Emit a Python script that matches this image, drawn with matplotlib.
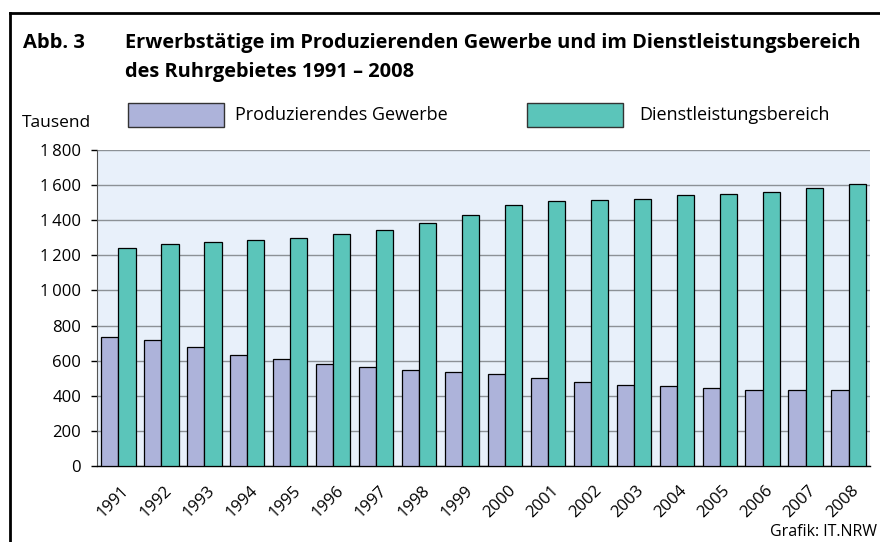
import matplotlib
matplotlib.use('Agg')
import matplotlib.pyplot as plt
import matplotlib.transforms as mtransforms
import numpy as np
from matplotlib.patches import Rectangle
from matplotlib.lines import Line2D

plt.rcParams['font.family'] = ['Open Sans', 'DejaVu Sans']

# ── Data (Tausend Erwerbstätige) ────────────────────────────────────────────
years = ['1991', '1992', '1993', '1994', '1995', '1996', '1997', '1998', '1999',
         '2000', '2001', '2002', '2003', '2004', '2005', '2006', '2007', '2008']
produzierend = [737, 720, 680, 635, 608, 582, 565, 549, 534,
                525, 502, 481, 462, 453, 443, 432, 432, 433]
dienstleistung = [1239, 1264, 1277, 1290, 1301, 1324, 1347, 1385, 1432,
                  1487, 1511, 1515, 1519, 1545, 1551, 1559, 1583, 1604]
yticks = [0, 200, 400, 600, 800, 1000, 1200, 1400, 1600, 1800]

C_PROD = '#adb3da'
C_DIENST = '#5bc5ba'
C_BG = '#e8f0fa'
C_GRID = '#8c9196'

W, H = 880, 542
fig = plt.figure(figsize=(W / 100, H / 100), dpi=100)
fig.patch.set_facecolor('white')

ax = fig.add_axes([97 / W, 1 - 466 / H, 773 / W, 316 / H])
ax.set_facecolor(C_BG)

x = np.arange(len(years))
bw = 0.4
ax.bar(x - bw / 2, produzierend, bw, color=C_PROD, edgecolor='black', linewidth=0.9, zorder=3)
ax.bar(x + bw / 2, dienstleistung, bw, color=C_DIENST, edgecolor='black', linewidth=0.9, zorder=3)

ax.set_xlim(-0.5, len(years) - 0.5)
ax.set_ylim(0, 1800)
ax.set_yticks(yticks)
ax.set_yticklabels([f'{v:,}'.replace(',', '\u2009') if v >= 1000 else str(v) for v in yticks],
                   fontsize=12)
ax.yaxis.grid(True, color=C_GRID, linewidth=1.0, zorder=1)
ax.tick_params(axis='y', length=4.5, width=1, color='black', pad=7)
ax.set_xticks(x)
ax.set_xticklabels(years, rotation=45, ha='right', va='center',
                   rotation_mode='anchor', fontsize=12)
ax.tick_params(axis='x', length=0, pad=16)
offset = mtransforms.ScaledTranslation(0.08, 0, fig.dpi_scale_trans)
for lab in ax.get_xticklabels():
    lab.set_transform(lab.get_transform() + offset)
for s in ['top', 'right']:
    ax.spines[s].set_visible(False)
ax.spines['left'].set_color('#555555')
ax.spines['left'].set_linewidth(0.8)
ax.spines['bottom'].set_color('black')
ax.spines['bottom'].set_linewidth(1.0)

# ── Frame ───────────────────────────────────────────────────────────────────
fig.add_artist(Line2D([10 / W, 10 / W], [0, 1 - 12.5 / H], color='black', lw=2, transform=fig.transFigure))
fig.add_artist(Line2D([10 / W, 1], [1 - 12.5 / H, 1 - 12.5 / H], color='black', lw=2, transform=fig.transFigure))

# ── Title ───────────────────────────────────────────────────────────────────
fig.text(23 / W, 1 - 43 / H, 'Abb. 3', fontsize=14.5, fontweight='bold', va='center', ha='left')
fig.text(125 / W, 1 - 43 / H, 'Erwerbstätige im Produzierenden Gewerbe und im Dienstleistungsbereich',
         fontsize=14.4, fontweight='bold', va='center', ha='left')
fig.text(125 / W, 1 - 72 / H, 'des Ruhrgebietes 1991 – 2008',
         fontsize=14.4, fontweight='bold', va='center', ha='left')

# ── Legend ──────────────────────────────────────────────────────────────────
for px, col, lbl, tx in [(128, C_PROD, 'Produzierendes Gewerbe', 235),
                         (527, C_DIENST, 'Dienstleistungsbereich', 639)]:
    fig.add_artist(Rectangle((px / W, 1 - 127 / H), 96 / W, 24 / H, facecolor=col,
                             edgecolor='#333333', lw=1, transform=fig.transFigure))
    fig.text(tx / W, 1 - 115 / H, lbl, fontsize=13, va='center', ha='left')

fig.text(22 / W, 1 - 123 / H, 'Tausend', fontsize=12.5, va='center', ha='left')
fig.text(877 / W, 1 - 532 / H, 'Grafik: IT.NRW', fontsize=11.5, va='center', ha='right')

fig.savefig('out.png', dpi=100, facecolor='white')
